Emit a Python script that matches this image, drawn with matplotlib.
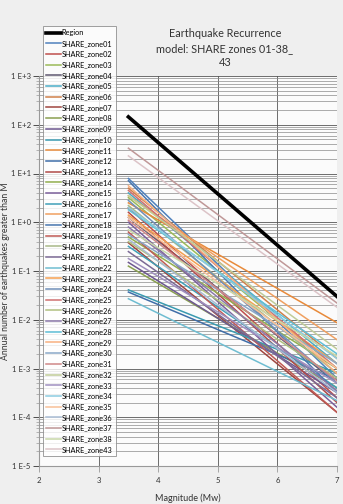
import matplotlib
matplotlib.use("Agg")
import matplotlib.pyplot as plt
from matplotlib.ticker import LogLocator, FixedLocator, NullFormatter

plt.rcParams['font.family'] = ['Lato', 'DejaVu Sans']

# magnitudes at which each recurrence curve is given
MAGS = [3.5, 7.0]

REGION_RATES = [145.0, 0.03]

ZONES = ["SHARE_zone%02d" % i for i in range(1, 39)] + ["SHARE_zone43"]

# annual number of events >= M at M=3.5 and at M=7.0
RATE_M35 = [7.9, 2.0, 3.2, 1.26, 4.0, 5.0, 0.38, 0.126, 0.15, 0.041,
            2.5, 0.037, 1.6, 0.5, 1.0, 0.32, 3.5, 7.1, 0.63, 2.2,
            0.25, 0.027, 1.4, 2.8, 4.5, 0.4, 0.8, 1.8, 5.6, 0.56,
            1.1, 3.5, 0.18, 2.0, 1.26, 0.45, 33.0, 0.7, 23.0]
RATE_M7 = [6.3e-4, 2.5e-4, 1.0e-3, 5.0e-4, 1.26e-3, 1.6e-3, 1.26e-4, 4.0e-4, 3.2e-4, 8.0e-4,
           8.7e-3, 5.9e-4, 2.0e-4, 1.0e-3, 1.6e-4, 4.0e-4, 3.9e-3, 3.2e-4, 1.26e-4, 7.9e-4,
           2.5e-4, 2.2e-4, 1.26e-3, 5.0e-4, 1.0e-3, 6.3e-4, 3.5e-4, 2.0e-3, 7.9e-4, 1.26e-3,
           5.6e-4, 2.5e-3, 5.0e-4, 1.6e-3, 1.0e-3, 3.2e-4, 0.022, 1.8e-3, 0.018]

COLORS = ["#4F81BD", "#C0504D", "#9BBB59", "#5F5870", "#4BACC6", "#D0804A",
          "#A0453F", "#8AA050", "#6E5890", "#3A9AB0", "#E88A3A", "#3F6EA8",
          "#B04A48", "#93B050", "#7A5E9A", "#40A0B8", "#F0A060", "#4A78B0",
          "#C05A55", "#A8B888", "#7C6A95", "#6FBDD1", "#F5A050", "#7090B8",
          "#D07070", "#B0C080", "#8C7AAA", "#60C0D8", "#F8B080", "#8AA8C8",
          "#D08888", "#C0CC98", "#A090C0", "#8CCCE0", "#F8C098", "#A8BCD4",
          "#C09898", "#C8D8A8", "#DCC4C8"]

fig = plt.figure(figsize=(3.43, 5.04), dpi=100, facecolor="#EFEFEF")
ax = fig.add_axes([39 / 343, 1 - 466 / 504, 298 / 343, 390 / 504])
ax.set_facecolor("#FBFBFB")

handles = []
h, = ax.plot(MAGS, REGION_RATES, color="black", lw=2.6, label="Region", zorder=5)
handles.append(h)
for name, r0, r1, c in zip(ZONES, RATE_M35, RATE_M7, COLORS):
    h, = ax.plot(MAGS, [r0, r1], color=c, lw=1.1, label=name, zorder=3)
    handles.append(h)

ax.set_yscale("log")
ax.set_xlim(2, 7)
ax.set_ylim(1e-5, 1e3)

ax.xaxis.set_major_locator(FixedLocator([2, 3, 4, 5, 6, 7]))
ax.yaxis.set_minor_locator(LogLocator(base=10, subs=range(2, 10), numticks=100))
ax.yaxis.set_minor_formatter(NullFormatter())
exps = range(-5, 4)
ax.set_yticks([10.0 ** e for e in exps])
ax.set_yticklabels(["1 E%+d" % e for e in exps])

ax.grid(True, which="major", axis="both", color="#555555", lw=0.6)
ax.grid(True, which="minor", axis="y", color="#8a8a8a", lw=0.5)
ax.set_axisbelow(True)

for s in ["top", "right"]:
    ax.spines[s].set_visible(False)
for s in ["left", "bottom"]:
    ax.spines[s].set_color("#999999")
    ax.spines[s].set_linewidth(0.8)

ax.tick_params(axis="both", which="major", labelsize=5.6, colors="#333333", length=4, width=0.6, pad=2)
ax.tick_params(axis="y", which="minor", length=2, width=0.5, colors="#999999")
ax.tick_params(axis="x", which="major", color="#999999", pad=4)

ax.set_xlabel("Magnitude (Mw)", fontsize=6.5, color="#333333", labelpad=7)
fig.text(6 / 343, 1 - 271 / 504, "Annual number of earthquakes greater than M",
         rotation=90, ha="center", va="center", fontsize=6.2, color="#333333")

fig.text(225 / 343, 1 - 28 / 504, "Earthquake Recurrence\nmodel: SHARE zones 01-38_\n43",
         ha="center", va="top", fontsize=7.8, color="#333333", linespacing=1.4)

leg = fig.legend(handles=handles, loc="upper left", bbox_to_anchor=(43 / 343, 1 - 26 / 504),
                 fontsize=5.3, frameon=True, fancybox=False, handlelength=2.0,
                 handletextpad=0.1, labelspacing=0.5, borderpad=0.45, borderaxespad=0)
leg.get_frame().set_edgecolor("#888888")
leg.get_frame().set_linewidth(0.7)
leg.set_zorder(10)

fig.savefig("out.png", dpi=100, facecolor=fig.get_facecolor())
